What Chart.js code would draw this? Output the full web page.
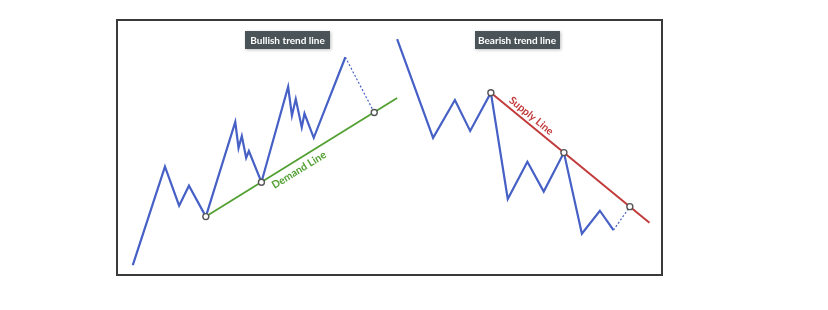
<!DOCTYPE html>
<html>
<head>
<meta charset="utf-8">
<script src="https://cdn.jsdelivr.net/npm/chart.js@4/dist/chart.umd.min.js"></script>
<style>
html,body{margin:0;padding:0;background:#fff;}
#c{display:block;}
</style>
</head>
<body>
<canvas id="c" width="828" height="310"></canvas>
<script>
// Time axis 0..100, price axis 0..100
const bullX = [2.9, 8.8, 11.4, 13.2, 16.3, 21.7, 22.3, 22.9, 23.7, 24.2, 26.5, 31.4, 32.1, 32.8, 33.9, 34.4, 36.1, 41.9];
const bullY = [3.9, 42.5, 27.2, 35.0, 22.9, 60.0, 49.8, 54.5, 45.9, 48.6, 36.4, 73.8, 62.5, 69.0, 57.9, 63.3, 53.8, 85.4];
const bullRetestX = [41.9, 47.2];
const bullRetestY = [85.4, 63.7];
const demandX = [16.3, 51.4];
const demandY = [22.9, 69.4];
const demandTouchX = [16.3, 26.5, 47.2];
const demandTouchY = [22.9, 36.4, 63.7];

const bearX = [51.4, 58.0, 62.0, 64.8, 68.6, 71.7, 75.3, 78.3, 82.0, 85.3, 88.6, 91.1];
const bearY = [92.5, 53.8, 68.6, 56.5, 71.5, 29.8, 44.4, 32.7, 48.0, 16.2, 25.2, 17.6];
const bearRetestX = [91.1, 94.1];
const bearRetestY = [17.6, 26.8];
const supplyX = [68.6, 97.7];
const supplyY = [71.5, 20.5];
const supplyTouchX = [68.6, 82.0, 94.1];
const supplyTouchY = [71.5, 48.0, 26.8];

const panelTitles = ["Bullish trend line", "Bearish trend line"];
const panelTitleX = [31.3, 73.4];
const panelTitleY = [92.2, 92.2];
const lineLabels = ["Demand Line", "Supply Line"];
const lineLabelX = [33.4, 76.0];
const lineLabelY = [41.2, 62.4];

const BLUE = '#4660c6';
const GREEN = '#52a032';
const RED = '#c23b3b';

function pts(xs, ys){ return xs.map((x,i)=>({x:x, y:ys[i]})); }

const touchX = demandTouchX.concat(supplyTouchX);
const touchY = demandTouchY.concat(supplyTouchY);

const framePlugin = {
  id: 'frame',
  afterDatasetsDraw(chart){
    const ctx = chart.ctx, a = chart.chartArea;
    const xs = chart.scales.x, ys = chart.scales.y;
    ctx.save();
    // panel titles
    ctx.font = 'bold 10px Lato, "Open Sans", sans-serif';
    panelTitles.forEach((t,i)=>{
      const cx = xs.getPixelForValue(panelTitleX[i]);
      const cy = ys.getPixelForValue(panelTitleY[i]);
      const w = 85, h = 18;
      ctx.shadowColor = 'rgba(0,0,0,0.25)';
      ctx.shadowBlur = 3;
      ctx.shadowOffsetX = 1; ctx.shadowOffsetY = 1;
      ctx.fillStyle = '#4a5458';
      ctx.fillRect(Math.round(cx - w/2), Math.round(cy - h/2), w, h);
      ctx.shadowColor = 'transparent';
      ctx.fillStyle = '#ffffff';
      ctx.textAlign = 'center';
      ctx.textBaseline = 'middle';
      ctx.fillText(t, cx, cy + 0.5);
    });
    // trend line labels
    ctx.font = 'bold 10.5px Lato, "Open Sans", sans-serif';
    const lines = [[demandX, demandY, GREEN], [supplyX, supplyY, RED]];
    lines.forEach((L,i)=>{
      const x1 = xs.getPixelForValue(L[0][0]), y1 = ys.getPixelForValue(L[1][0]);
      const x2 = xs.getPixelForValue(L[0][1]), y2 = ys.getPixelForValue(L[1][1]);
      const ang = Math.atan2(y2 - y1, x2 - x1);
      const cx = xs.getPixelForValue(lineLabelX[i]);
      const cy = ys.getPixelForValue(lineLabelY[i]);
      ctx.save();
      ctx.translate(cx, cy);
      ctx.rotate(ang);
      ctx.fillStyle = L[2];
      ctx.textAlign = 'center';
      ctx.textBaseline = 'middle';
      ctx.fillText(lineLabels[i], 0, 0);
      ctx.restore();
    });
    // frame
    ctx.strokeStyle = '#3a3a3a';
    ctx.lineWidth = 2;
    ctx.strokeRect(a.left, a.top, a.right - a.left, a.bottom - a.top);
    ctx.restore();
  }
};

new Chart(document.getElementById('c'), {
  type: 'scatter',
  data: {
    datasets: [
      { data: pts(touchX, touchY), showLine: false, pointRadius: 3, pointBackgroundColor: '#ffffff', pointBorderColor: '#555555', pointBorderWidth: 1.4 },
      { data: pts(bullX, bullY), showLine: true, borderColor: BLUE, borderWidth: 2.2, pointRadius: 0, tension: 0 },
      { data: pts(bullRetestX, bullRetestY), showLine: true, borderColor: BLUE, borderWidth: 1.2, borderDash: [2,2], pointRadius: 0 },
      { data: pts(demandX, demandY), showLine: true, borderColor: GREEN, borderWidth: 1.8, pointRadius: 0 },
      { data: pts(bearX, bearY), showLine: true, borderColor: BLUE, borderWidth: 2.2, pointRadius: 0, tension: 0 },
      { data: pts(bearRetestX, bearRetestY), showLine: true, borderColor: BLUE, borderWidth: 1.2, borderDash: [2,2], pointRadius: 0 },
      { data: pts(supplyX, supplyY), showLine: true, borderColor: RED, borderWidth: 2, pointRadius: 0 }
    ]
  },
  options: {
    responsive: false,
    animation: false,
    layout: { padding: { left: 117, right: 166, top: 20, bottom: 35 } },
    scales: {
      x: { type: 'linear', min: 0, max: 100, display: false },
      y: { type: 'linear', min: 0, max: 100, display: false }
    },
    plugins: { legend: { display: false }, tooltip: { enabled: false } },
    events: []
  },
  plugins: [framePlugin]
});
</script>
</body>
</html>
